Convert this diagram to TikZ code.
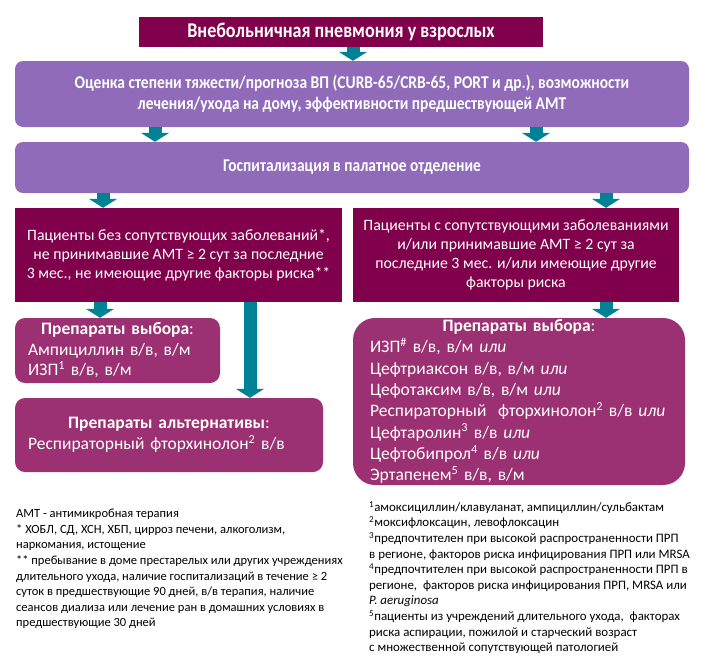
\documentclass[tikz,border=0pt]{standalone}
\usepackage{fontspec}
\setmainfont{Carlito}
\newfontfamily\condfont[FakeStretch=0.86]{Carlito}
\usetikzlibrary{positioning,arrows.meta}
\definecolor{headplum}{RGB}{128,0,76}
\definecolor{stagelilac}{RGB}{143,107,185}
\definecolor{drugplum}{RGB}{155,48,114}
\definecolor{arrowteal}{RGB}{0,130,150}

\begin{document}
\begin{tikzpicture}[x=1pt,y=-1pt,
  headbox/.style={fill=headplum,text=white,inner sep=0pt},
  stagebox/.style={fill=stagelilac,text=white,rounded corners=8pt,align=center,
    font=\condfont\bfseries\fontsize{18}{21}\selectfont},
  groupbox/.style={fill=headplum,text=white,align=center,inner sep=0pt,
    font=\fontsize{15.8}{18.8}\selectfont},
  drugbox/.style={fill=drugplum,text=white,align=left,inner xsep=13pt,inner ysep=0pt,
    rounded corners=10pt,font=\fontsize{17.5}{20.5}\selectfont},
  flow/.style={draw=arrowteal,line width=13pt,-{Triangle[width=28pt,length=9pt]}},
  note/.style={anchor=north west,align=left,inner sep=0pt,font=\fontsize{12.5}{15.6}\selectfont}]
  \useasboundingbox (0,0) rectangle (712,667);

  % header and common stages
  \node[headbox,minimum width=404pt,minimum height=30pt,
    font=\condfont\bfseries\fontsize{21}{24}\selectfont] (title) at (341,32)
    {Внебольничная пневмония у взрослых};
  \node[stagebox,minimum width=674pt,minimum height=66pt] (assess) at (352,94)
    {Оценка степени тяжести/прогноза ВП (CURB-65/CRB-65, PORT и др.), возможности\\
     лечения/ухода на дому, эффективности предшествующей АМТ};
  \node[stagebox,minimum width=674pt,minimum height=51pt] (ward) at (352,167.5)
    {Госпитализация в палатное отделение};

  % patient groups
  \node[groupbox,minimum width=327pt,minimum height=94pt] (plainpat) at (178.5,255)
    {Пациенты без сопутствующих заболеваний*,\\
     не принимавшие АМТ ≥ 2 сут за последние\\
     3 мес., не имеющие другие факторы риска**};
  \node[groupbox,minimum width=326pt,minimum height=94pt] (riskpat) at (516,255)
    {Пациенты с сопутствующими заболеваниями\\
     и/или принимавшие АМТ ≥ 2 сут за\\
     последние 3 мес. и/или имеющие другие\\
     факторы риска};

  % drugs
  \node[drugbox,text width=179pt,minimum height=65pt] (plaindrug) at (117.5,350.5)
    {\makebox[\hsize][c]{\textbf{Препараты выбора}:}\\
     Ампициллин в/в, в/м\\
     ИЗП\textsuperscript{1} в/в, в/м};
  \node[drugbox,text width=282pt,minimum height=74pt] (altdrug) at (169,435)
    {\makebox[\hsize][c]{\textbf{Препараты альтернативы}:}\\
     Респираторный фторхинолон\textsuperscript{2} в/в};
  \node[drugbox,inner xsep=17pt,text width=298pt,minimum height=167pt,
    rounded corners=22pt,font=\fontsize{17.5}{21.3}\selectfont] (riskdrug) at (519,401.5)
    {\makebox[\hsize][c]{\textbf{Препараты выбора}:}\\
     ИЗП\textsuperscript{\#} в/в, в/м \textit{или}\\
     Цефтриаксон в/в, в/м \textit{или}\\
     Цефотаксим в/в, в/м \textit{или}\\
     Респираторный\ \ фторхинолон\textsuperscript{2} в/в \textit{или}\\
     Цефтаролин\textsuperscript{3} в/в \textit{или}\\
     Цефтобипрол\textsuperscript{4} в/в \textit{или}\\
     Эртапенем\textsuperscript{5} в/в, в/м};

  % arrows
  \draw[flow] (353,0 |- title.south) -- (353,0 |- assess.north);
  \draw[flow] (155,0 |- assess.south) -- (155,0 |- ward.north);
  \draw[flow] (536,0 |- assess.south) -- (536,0 |- ward.north);
  \draw[flow] (103,0 |- ward.south) -- (103,0 |- plainpat.north);
  \draw[flow] (606,0 |- ward.south) -- (606,0 |- riskpat.north);
  \draw[flow] (100,0 |- plainpat.south) -- (100,0 |- plaindrug.north);
  \draw[flow] (250,0 |- plainpat.south) -- (250,0 |- altdrug.north);
  \draw[flow] (606,0 |- riskpat.south) -- (606,0 |- riskdrug.north);

  % footnotes
  \node[note] (abbrnote) at (16,509)
    {АМТ - антимикробная терапия\\
     * ХОБЛ, СД, ХСН, ХБП, цирроз печени, алкоголизм,\\
     наркомания, истощение\\
     ** пребывание в доме престарелых или других учреждениях\\
     длительного ухода, наличие госпитализаций в течение ≥ 2\\
     суток в предшествующие 90 дней, в/в терапия, наличие\\
     сеансов диализа или лечение ран в домашних условиях в\\
     предшествующие 30 дней};
  \node[note,font=\fontsize{12.9}{15.6}\selectfont] (drugnote) at (369,501)
    {\textsuperscript{1}амоксициллин/клавуланат, ампициллин/сульбактам\\
     \textsuperscript{2}моксифлоксацин, левофлоксацин\\
     \textsuperscript{3}предпочтителен при высокой распространенности ПРП\\
     в регионе, факторов риска инфицирования ПРП или MRSA\\
     \textsuperscript{4}предпочтителен при высокой распространенности ПРП в\\
     регионе,\ \ факторов риска инфицирования ПРП, MRSA или\\
     \textit{P. aeruginosa}\\
     \textsuperscript{5}пациенты из учреждений длительного ухода,\ \ факторах\\
     риска аспирации, пожилой и старческий возраст\\
     с множественной сопутствующей патологией};
\end{tikzpicture}
\end{document}
